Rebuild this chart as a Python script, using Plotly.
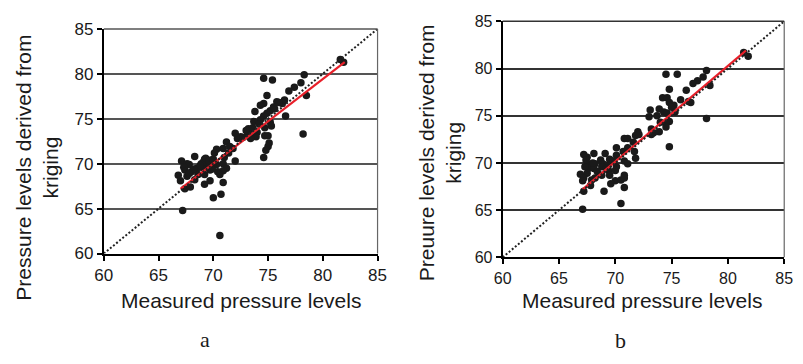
import plotly.graph_objects as go

# ---------------- data ----------------
# panel a
a_x = [81.6, 81.9, 78.3, 74.6, 75.4, 78.0, 77.4, 76.9, 78.5, 74.9, 76.5, 75.8, 74.6, 74.3, 75.5,
       76.3, 75.2, 73.8, 74.9, 74.6, 76.6, 74.3, 73.7, 75.2, 74.2, 75.3, 74.7, 73.2, 74.0, 73.4,
       72.0, 78.2, 74.7, 75.0, 73.1, 73.9, 72.2, 73.4, 71.2, 75.1, 75.0, 71.8, 74.8, 70.3, 70.9,
       71.4, 70.1, 74.6, 68.3, 71.0, 67.1, 69.2, 69.8, 72.0, 67.6, 68.9, 69.5, 70.0, 70.9, 68.9,
       69.4, 68.5, 67.4, 68.0, 69.7, 71.2, 70.4, 70.9, 66.8, 67.6, 68.6, 69.2, 70.6, 68.3, 69.7,
       67.0, 70.9, 69.2, 67.4, 67.9, 70.0, 70.7, 67.2, 70.6,
       69.1, 69.3, 69.6, 68.8, 70.0, 70.3, 67.8, 68.2, 67.3, 67.8, 69.9, 72.5, 73.0, 72.7, 71.5,
       75.6, 76.0, 73.6]
a_y = [81.6, 81.3, 79.9, 79.5, 79.3, 79.0, 78.5, 78.1, 77.6, 77.6, 77.1, 76.9, 76.7, 76.5, 76.3,
       76.7, 75.9, 75.8, 75.6, 75.3, 75.3, 74.9, 74.7, 74.6, 74.4, 74.2, 74.0, 73.9, 73.5, 73.4,
       73.4, 73.3, 73.1, 73.1, 73.1, 73.0, 72.8, 72.8, 72.4, 72.3, 71.9, 71.7, 71.5, 71.6, 71.7,
       71.2, 71.2, 70.7, 70.8, 70.7, 70.3, 70.5, 70.4, 70.3, 70.0, 70.0, 70.1, 69.8, 70.0, 69.6,
       69.6, 69.5, 69.3, 69.1, 69.3, 69.5, 69.1, 69.2, 68.7, 68.6, 68.8, 68.8, 68.8, 68.2, 68.1,
       68.1, 67.9, 67.7, 67.2, 67.4, 66.2, 66.6, 64.8, 62.0,
       70.2, 70.6, 70.3, 69.8, 70.5, 69.9, 69.9, 69.4, 69.6, 68.9, 69.4, 73.0, 73.7, 72.9, 71.9,
       76.1, 76.8, 74.0]
a_fit_x = [67.0, 82.0]
a_fit_y = [67.2, 81.3]

# panel b
b_x = [81.4, 81.8, 78.1, 74.5, 75.5, 77.8, 77.3, 76.9, 78.4, 74.8, 76.3, 74.2, 74.6, 75.8, 76.7,
       74.8, 75.2, 73.1, 73.9, 74.3, 74.6, 75.3, 73.0, 73.7, 78.1, 74.8, 74.5, 74.0, 74.5, 73.2,
       73.4, 73.9, 73.2, 72.0, 71.8, 70.8, 71.1, 74.8, 71.6, 71.1, 70.1, 70.7, 71.7, 69.1, 68.1,
       67.2, 70.1, 67.5, 71.8, 69.5, 68.7, 69.8, 70.8, 67.6, 68.2, 68.9, 69.4, 71.1, 67.6, 68.1,
       68.8, 70.1, 67.5, 68.4, 69.4, 70.0, 66.9, 68.8, 69.5, 67.2, 68.2, 70.8, 67.1, 67.9, 70.0,
       70.5, 70.8, 69.6, 67.8, 70.8, 67.2, 69.0, 70.5, 67.1,
       67.4, 67.3, 68.0, 69.2, 72.1, 75.0, 76.5]
b_y = [81.7, 81.3, 79.8, 79.4, 79.4, 79.1, 78.7, 78.4, 78.2, 77.8, 77.7, 76.9, 76.9, 76.7, 76.4,
       76.4, 76.1, 75.6, 75.7, 75.4, 75.3, 75.4, 74.9, 75.0, 74.7, 74.4, 74.2, 74.3, 73.8, 73.6,
       73.2, 73.3, 73.0, 73.3, 72.9, 72.6, 72.6, 71.7, 72.2, 71.6, 71.6, 71.2, 71.2, 71.0, 71.0,
       70.9, 70.8, 70.6, 70.5, 70.4, 70.3, 70.2, 70.2, 69.9, 69.9, 69.9, 69.8, 69.9, 69.4, 69.4,
       69.6, 69.6, 68.9, 69.1, 69.2, 69.2, 68.8, 68.7, 68.7, 68.4, 68.4, 68.7, 68.1, 68.2, 68.1,
       68.2, 68.4, 67.8, 67.6, 67.4, 67.0, 67.0, 65.7, 65.1,
       70.3, 69.6, 70.0, 69.4, 73.0, 75.9, 76.5]
b_fit_x = [67.1, 81.6]
b_fit_y = [67.2, 81.9]

diag = [60, 85]
ticks = [60, 65, 70, 75, 80, 85]

FONT = "Liberation Sans, Arial, sans-serif"

fig = go.Figure()

panels = [
    dict(xs=a_x, ys=a_y, fx=a_fit_x, fy=a_fit_y, xa="x", ya="y"),
    dict(xs=b_x, ys=b_y, fx=b_fit_x, fy=b_fit_y, xa="x2", ya="y2"),
]

for p in panels:
    fig.add_trace(go.Scatter(x=p["xs"], y=p["ys"], mode="markers", xaxis=p["xa"], yaxis=p["ya"],
                             marker=dict(color="#1a1a1a", size=7.5, line=dict(width=0)),
                             showlegend=False, hoverinfo="skip"))
    fig.add_trace(go.Scatter(x=p["fx"], y=p["fy"], mode="lines", xaxis=p["xa"], yaxis=p["ya"],
                             line=dict(color="#e8202a", width=2.2), showlegend=False, hoverinfo="skip"))
    fig.add_trace(go.Scatter(x=diag, y=diag, mode="lines", xaxis=p["xa"], yaxis=p["ya"],
                             line=dict(color="#222222", width=2, dash="2px,2px"),
                             showlegend=False, hoverinfo="skip"))

W, H = 803, 364
def dom_x(l, r):
    return [l / W, r / W]
def dom_y(t, b):
    return [(H - b) / H, (H - t) / H]

axis_common = dict(range=[60, 85], tickvals=ticks, ticks="outside", ticklen=5, tickwidth=1.5,
                   tickcolor="black", showline=True, linecolor="black", linewidth=2,
                   zeroline=False)

fig.update_layout(
    width=W, height=H, margin=dict(l=0, r=0, t=0, b=0),
    paper_bgcolor="white", plot_bgcolor="white",
    font=dict(family=FONT, color="#1a1a1a"),
    xaxis=dict(domain=dom_x(97, 377), anchor="y", showgrid=False,
               tickfont=dict(size=17), **axis_common),
    yaxis=dict(domain=dom_y(21, 258), anchor="x", showgrid=True, gridcolor="#555555", gridwidth=1.5,
               tickfont=dict(size=17), **axis_common),
    xaxis2=dict(domain=dom_x(505, 793), anchor="y2", showgrid=False,
                tickfont=dict(size=16), **axis_common),
    yaxis2=dict(domain=dom_y(13, 262), anchor="x2", showgrid=True, gridcolor="#333333", gridwidth=1.5,
                tickfont=dict(size=16), **axis_common),
)

# right and top border lines of each panel
for xr, yr, col in (("x domain", "y domain", "#555555"), ("x2 domain", "y2 domain", "#333333")):
    fig.add_shape(type="line", xref=xr, yref=yr, x0=1, x1=1, y0=0, y1=1,
                  line=dict(color="#666666", width=1.2))
    fig.add_shape(type="line", xref=xr, yref=yr, x0=0, x1=1, y0=1, y1=1,
                  line=dict(color=col, width=1.5))

annotations = [
    dict(text="Measured pressure levels", x=237 / W, y=1 - 308 / H, size=21),
    dict(text="Measured pressure levels", x=648 / W, y=1 - 308 / H, size=21),
]
for a in annotations:
    fig.add_annotation(text=a["text"], xref="paper", yref="paper", x=a["x"], y=a["y"],
                       xanchor="center", yanchor="middle", showarrow=False,
                       font=dict(size=a["size"], family=FONT, color="#1a1a1a"))

ytitles = [
    ("Pressure levels derived from<br>kriging", 29 / W, 1 - 167 / H),
    ("Preuure levels derived from<br>kriging", 441 / W, 1 - 152 / H),
]
for t, x, y in ytitles:
    fig.add_annotation(text=t, xref="paper", yref="paper", x=x, y=y, textangle=-90,
                       xanchor="center", yanchor="middle", showarrow=False,
                       font=dict(size=21, family=FONT, color="#1a1a1a"))

for lab, x, y in (("a", 200 / W, 1 - 349 / H), ("b", 626 / W, 1 - 350 / H)):
    fig.add_annotation(text=lab, xref="paper", yref="paper", x=x, y=y,
                       xanchor="center", yanchor="middle", showarrow=False,
                       font=dict(size=22, family="Liberation Serif, Times New Roman, serif",
                                 color="#1a1a1a"))

fig.write_html("out.html")
